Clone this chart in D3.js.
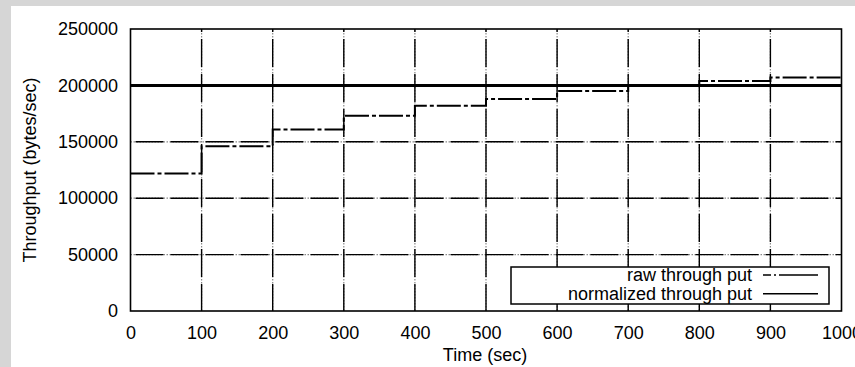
<!DOCTYPE html>
<html>
<head>
<meta charset="utf-8">
<script src="https://cdn.jsdelivr.net/npm/d3@7"></script>
<style>
  body { margin: 0; background: #d6d6d6; }
  svg { display: block; }
  text { font-family: "Liberation Sans", Arial, sans-serif; fill: #000; }
</style>
</head>
<body>
<svg id="chart"></svg>
<script>
// step starts (sec) and raw throughput (bytes/sec)
const stepTimes = [0, 100, 200, 300, 400, 500, 600, 700, 800, 900, 1000]
const rawThroughput = [122000, 146000, 161000, 173000, 182000, 188000, 195000, 200000, 204000, 207000, 207000]
const normThroughput = [200000, 200000, 200000, 200000, 200000, 200000, 200000, 200000, 200000, 200000, 200000]
const xTicks = [0, 100, 200, 300, 400, 500, 600, 700, 800, 900, 1000]
const yTicks = [0, 50000, 100000, 150000, 200000, 250000]
const seriesNames = ["raw through put", "normalized through put"]

const width = 855
const height = 367
const plot = { left: 130.5, right: 841.5, top: 29, bottom: 311 }

const svg = d3.select("#chart").attr("width", width).attr("height", height)

// paper
svg.append("rect")
  .attr("x", 11).attr("y", 6)
  .attr("width", width - 11).attr("height", height - 6)
  .attr("fill", "#fff")

const x = d3.scaleLinear().domain([0, 1000]).range([plot.left, plot.right])
const y = d3.scaleLinear().domain([0, 250000]).range([plot.bottom, plot.top])

const chart = svg.append("g").attr("class", "main-group")

// grid: dotted grey underlay + black dashes gives the dotted breaks
const drawGrid = (stroke, dash, sw) => {
  chart.append("g")
    .selectAll("line.v")
    .data(xTicks.slice(1, -1))
    .enter()
    .append("line")
    .attr("x1", (d) => x(d)).attr("x2", (d) => x(d))
    .attr("y1", plot.top).attr("y2", plot.bottom)
    .attr("stroke", stroke)
    .attr("stroke-width", sw)
    .attr("stroke-dasharray", dash)
    .attr("stroke-dashoffset", -10)
  chart.append("g")
    .selectAll("line.h")
    .data(yTicks.slice(1, -1))
    .enter()
    .append("line")
    .attr("x1", plot.left).attr("x2", plot.right)
    .attr("y1", (d) => y(d)).attr("y2", (d) => y(d))
    .attr("stroke", stroke)
    .attr("stroke-width", sw)
    .attr("stroke-dasharray", dash)
    .attr("stroke-dashoffset", 30)
}
drawGrid("#8a8a8a", "1.5,1.5", 1.2)
drawGrid("#000", "28,7", 1.4)

// axes labels only
const fmt = d3.format("d")
const xAxis = d3.axisBottom(x).tickValues(xTicks).tickFormat(fmt).tickSize(0).tickPadding(15)
const yAxis = d3.axisLeft(y).tickValues(yTicks).tickFormat(fmt).tickSize(0).tickPadding(12.5)

chart.append("g")
  .attr("transform", `translate(0,${plot.bottom})`)
  .call(xAxis)
  .call((g) => g.select(".domain").remove())
  .selectAll("text")
  .style("font-size", "18px")
  .style("font-family", '"Liberation Sans", Arial, sans-serif')

chart.append("g")
  .attr("transform", `translate(${plot.left},0)`)
  .call(yAxis)
  .call((g) => g.select(".domain").remove())
  .selectAll("text")
  .style("font-size", "18px")
  .style("font-family", '"Liberation Sans", Arial, sans-serif')

// series
const line = (vals) => d3.line()
  .x((d, i) => x(stepTimes[i]))
  .y((d) => y(d))
  .curve(d3.curveStepAfter)(vals)

chart.append("path")
  .attr("d", line(normThroughput))
  .attr("fill", "none")
  .attr("stroke", "#000")
  .attr("stroke-width", 3)

chart.append("path")
  .attr("d", line(rawThroughput))
  .attr("fill", "none")
  .attr("stroke", "#000")
  .attr("stroke-width", 2)
  .attr("stroke-dasharray", "24,3,4,3")

// frame
chart.append("rect")
  .attr("x", plot.left).attr("y", plot.top)
  .attr("width", plot.right - plot.left).attr("height", plot.bottom - plot.top)
  .attr("fill", "none")
  .attr("stroke", "#000")
  .attr("stroke-width", 1.6)

// legend
const legend = chart.append("g")
legend.append("rect")
  .attr("x", 511).attr("y", 267)
  .attr("width", 318).attr("height", 37)
  .attr("fill", "#fff")
  .attr("stroke", "#000")
  .attr("stroke-width", 1.5)

const legendDash = ["8,3,2,3,40", null]
seriesNames.forEach((name, i) => {
  const ly = 275 + i * 18.7
  legend.append("text")
    .attr("x", 752).attr("y", ly + 6)
    .attr("text-anchor", "end")
    .style("font-size", "18px")
    .text(name)
  legend.append("line")
    .attr("x1", 763).attr("x2", 818)
    .attr("y1", ly).attr("y2", ly)
    .attr("stroke", "#000")
    .attr("stroke-width", 1.5)
    .attr("stroke-dasharray", legendDash[i])
})

// axis titles
svg.append("text")
  .attr("x", 485).attr("y", 361)
  .attr("text-anchor", "middle")
  .style("font-size", "18px")
  .text("Time (sec)")

svg.append("text")
  .attr("transform", "translate(36,170) rotate(-90)")
  .attr("text-anchor", "middle")
  .style("font-size", "18px")
  .text("Throughput (bytes/sec)")
</script>
</body>
</html>
